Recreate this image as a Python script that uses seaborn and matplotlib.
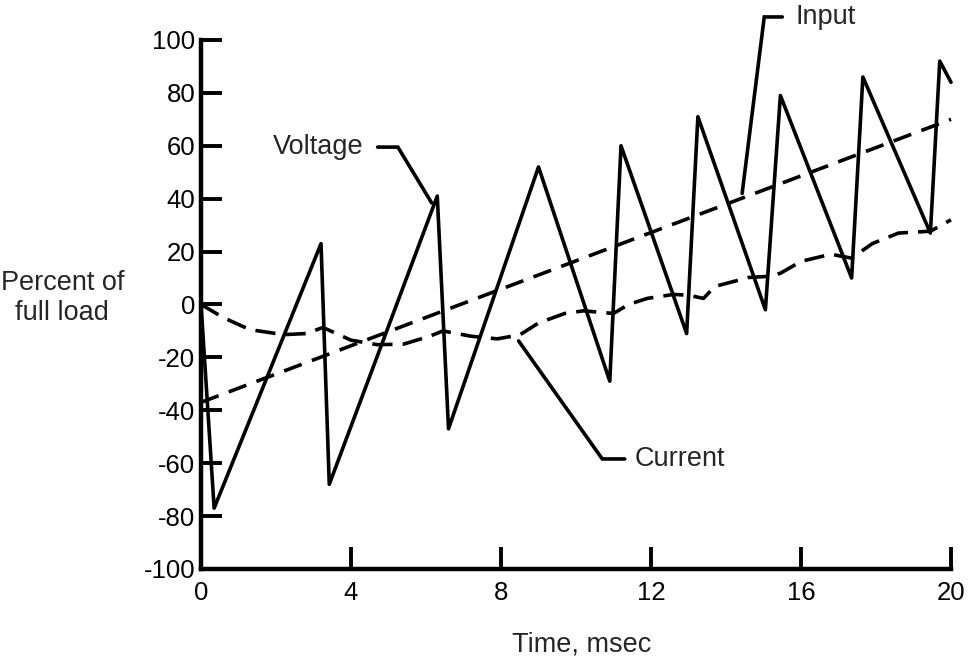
import matplotlib
matplotlib.use("Agg")
import matplotlib.pyplot as plt
import seaborn as sns


# values (time in msec, percent of full load)
voltage_t = [0.0, 0.35, 3.2, 3.42, 6.3, 6.6, 9.0, 10.9, 11.2, 12.95, 13.25,
             15.05, 15.45, 17.35, 17.65, 19.45, 19.7, 20.0]
voltage_pct = [0, -77, 23, -68, 41, -47, 52, -29, 60, -11, 71,
               -2, 79, 10, 86, 27, 92, 84]

current_t = [0.0, 0.6, 1.3, 2.2, 2.8, 3.25, 4.0, 4.7, 5.4, 6.1, 6.45,
             7.2, 7.9, 8.5, 9.0, 9.7, 10.2, 11.0, 11.4, 11.9, 12.6, 13.0,
             13.4, 13.7, 14.6, 15.1, 15.45, 16.0, 16.8, 17.35, 17.9, 18.6,
             19.45, 20.0]
current_pct = [0, -5, -9.5, -11.4, -11, -8.7, -13.5, -15.2, -15, -12, -10,
               -12, -13, -11.5, -7, -3.4, -2.4, -3.4, 0, 2.3, 3.8, 3.5,
               2.3, 6.8, 10.2, 10.6, 11.8, 16.3, 19, 17.5, 23, 27,
               27.7, 32]

input_t = [0.0, 20.0]
input_pct = [-37, 70]

x_ticks = [0, 4, 8, 12, 16, 20]
y_ticks = [-100, -80, -60, -40, -20, 0, 20, 40, 60, 80, 100]

# callout labels: text, text anchor, leader polyline
callouts = [
    ("Voltage", (3.12, 59.5), "center", [(4.71, 59.5), (5.25, 59.5), (6.15, 38.4)]),
    ("Input", (15.85, 108.7), "left", [(14.43, 42), (15.02, 108.7), (15.5, 108.7)]),
    ("Current", (11.56, -58.4), "left", [(8.47, -13.8), (10.7, -58.4), (11.3, -58.4)]),
]

sns.set_style("ticks")
plt.rcParams["font.family"] = ["Liberation Sans", "DejaVu Sans"]
plt.rcParams["axes.unicode_minus"] = False

fig = plt.figure(figsize=(9.73, 6.64), dpi=100)
ax = fig.add_axes([0.2066, 0.1431, 0.7708, 0.7967])

lw = 2.6
sns.lineplot(x=voltage_t, y=voltage_pct, ax=ax, color="black", linewidth=lw,
             clip_on=False)
sns.lineplot(x=input_t, y=input_pct, ax=ax, color="black", linewidth=lw,
             linestyle=(0, (5.2, 3.0)), clip_on=False)
sns.lineplot(x=current_t, y=current_pct, ax=ax, color="black", linewidth=lw,
             linestyle=(0, (5.6, 2.8)), clip_on=False)

for label, (tx, ty), ha, leader in callouts:
    lx = [p[0] for p in leader]
    ly = [p[1] for p in leader]
    ax.plot(lx, ly, color="black", linewidth=lw, clip_on=False,
            solid_joinstyle="miter")
    ax.text(tx, ty, label, ha=ha, va="center", fontsize=19.5, clip_on=False)

ax.set_xlim(0, 20)
ax.set_ylim(-100, 100)
ax.set_xticks(x_ticks)
ax.set_yticks(y_ticks)
ax.tick_params(axis="both", direction="in", width=2.8, colors="black",
               labelsize=18.5)
ax.tick_params(axis="x", length=16, pad=9)
ax.tick_params(axis="y", length=15, pad=4)

for side in ["top", "right"]:
    ax.spines[side].set_visible(False)
for side in ["left", "bottom"]:
    ax.spines[side].set_linewidth(3.2)
    ax.spines[side].set_color("black")

ax.set_xlabel("Time, msec", fontsize=19.5)
ax.xaxis.set_label_coords(0.507, -0.118)
ax.set_ylabel("Percent of\nfull load", fontsize=19.5, rotation=0,
              ha="center", va="center", multialignment="center")
ax.yaxis.set_label_coords(-0.185, 0.512)

fig.savefig("out.png", dpi=100)
plt.close(fig)
